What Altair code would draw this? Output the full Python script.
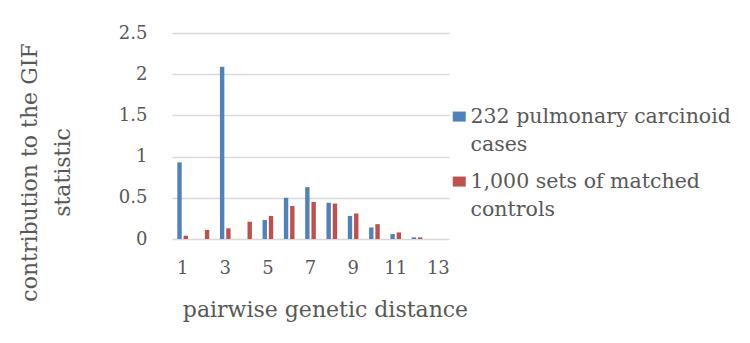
import altair as alt
import pandas as pd

# Contribution of each pairwise genetic distance to the GIF statistic
distance = list(range(1, 14))
cases = [0.93, 0.0, 2.09, 0.0, 0.23, 0.50, 0.63, 0.44, 0.28, 0.14, 0.06, 0.02, 0.0]
controls = [0.04, 0.11, 0.13, 0.21, 0.28, 0.40, 0.45, 0.43, 0.31, 0.18, 0.08, 0.02, 0.0]

series_names = ["232 pulmonary carcinoid cases", "1,000 sets of matched controls"]
legend_lines = [["232 pulmonary carcinoid", "cases"], ["1,000 sets of matched", "controls"]]
colors = ["#4F81BD", "#C0504D"]
y_ticks = [0, 0.5, 1, 1.5, 2, 2.5]

rows = []
for d, a, b in zip(distance, cases, controls):
    rows.append({"distance": d, "series": series_names[0], "value": a})
    rows.append({"distance": d, "series": series_names[1], "value": b})
df = pd.DataFrame(rows)

FONT = "DejaVu Serif"
GREY = "#595959"

legend_label_expr = (
    f"datum.label == '{series_names[0]}' ? {legend_lines[0]} : {legend_lines[1]}"
)

chart = (
    alt.Chart(df)
    .mark_bar()
    .encode(
        x=alt.X(
            "distance:O",
            scale=alt.Scale(paddingInner=0.5, paddingOuter=0.25),
            axis=alt.Axis(
                title="pairwise genetic distance",
                labelAngle=0,
                labelExpr="datum.value % 2 == 1 ? datum.label : ''",
                ticks=False,
                domain=False,
                grid=False,
                labelPadding=20,
                labelFontSize=18,
                titleFontSize=22,
                titleX=153,
                titleY=77,
                titleAlign="center",
                titleBaseline="alphabetic",
            ),
        ),
        xOffset=alt.XOffset("series:N", sort=series_names, scale=alt.Scale(paddingInner=0.3)),
        y=alt.Y(
            "value:Q",
            scale=alt.Scale(domain=[0, 2.5]),
            axis=alt.Axis(
                title=["contribution to the GIF", "statistic"],
                values=y_ticks,
                format=".1~f",
                ticks=False,
                domain=False,
                grid=True,
                labelPadding=25,
                labelFontSize=18,
                titleFontSize=22,
                titleLineHeight=33,
                titleAngle=-90,
                titleX=-136,
                titleY=139,
                titleAlign="center",
                titleBaseline="alphabetic",
            ),
        ),
        color=alt.Color(
            "series:N",
            sort=series_names,
            scale=alt.Scale(domain=series_names, range=colors),
            legend=alt.Legend(
                title=None,
                orient="none",
                legendX=277,
                legendY=80,
                padding=0,
                labelExpr=legend_label_expr,
                labelFont=FONT,
                labelFontSize=20.5,
                labelLimit=500,
                labelBaseline="alphabetic",
                labelOffset=1,
                rowPadding=16,
                symbolType="M-1,-1.8H1V-0.26H-1Z",
                symbolSize=169,
                symbolStrokeWidth=0,
                symbolOpacity=1,
            ),
        ),
    )
    .properties(
        width=277,
        height=206,
        autosize=alt.AutoSizeParams(type="none"),
        padding={"left": 172, "top": 33, "right": 301, "bottom": 104},
    )
    .configure(style={"guide-label": {"lineHeight": 27.5}})
    .configure_view(stroke=None)
    .configure_legend(labelColor=GREY)
    .configure_axis(
        labelFont=FONT,
        titleFont=FONT,
        labelColor=GREY,
        titleColor=GREY,
        titleFontWeight="normal",
        gridColor="#D9D9D9",
        gridWidth=1.3,
    )
)

chart.save("out.html", embed_options={"renderer": "svg", "actions": False})
